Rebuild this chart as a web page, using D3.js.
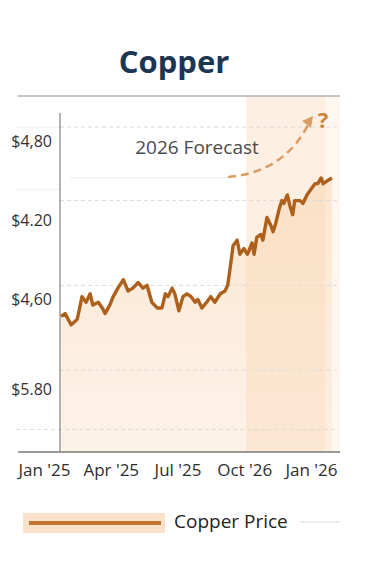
<!DOCTYPE html>
<html>
<head>
<meta charset="utf-8">
<script src="https://cdn.jsdelivr.net/npm/d3@7"></script>
<style>
  body { margin: 0; background: #fff; }
  svg { display: block; font-family: "Open Sans", "Noto Sans", sans-serif; }
</style>
</head>
<body>
<svg id="chart" width="385" height="563"></svg>
<script>
// days since start of series, and copper price ($/lb)
var dayIndex = [0, 6, 15, 24, 31, 37, 43, 47, 55, 61, 65, 72, 77, 84, 92, 99, 106, 114, 121,
  127, 134, 142, 149, 154, 158, 164, 168, 174, 180, 186, 192, 198, 202, 208, 215, 221, 227,
  235, 242, 246, 249, 254, 260, 264, 270, 275, 277, 282, 285, 289, 295, 298, 304, 310, 313,
  317, 322, 326, 329, 334, 338, 342, 345, 353, 357, 363, 369, 375, 379, 384, 387, 393, 400];
var prices = [4.28, 4.29, 4.25, 4.27, 4.35, 4.33, 4.36, 4.32, 4.33, 4.31, 4.29, 4.32, 4.35,
  4.38, 4.41, 4.37, 4.38, 4.40, 4.38,
  4.39, 4.33, 4.31, 4.31, 4.36, 4.35, 4.38, 4.36, 4.30, 4.35, 4.36, 4.35, 4.33, 4.34, 4.31,
  4.33, 4.35, 4.33,
  4.36, 4.37, 4.39, 4.44, 4.53, 4.55, 4.50, 4.52, 4.50, 4.51, 4.54, 4.50, 4.56, 4.57, 4.55,
  4.63, 4.60, 4.58,
  4.61, 4.66, 4.69, 4.68, 4.71, 4.67, 4.64, 4.69, 4.69, 4.68, 4.71, 4.73, 4.75, 4.75, 4.77,
  4.75, 4.76, 4.77];

var xLabels = ["Jan '25", "Apr '25", "Jul '25", "Oct '26", "Jan '26"];
var yTickLabels = ["$4,80", "$4.20", "$4,60", "$5.80"];
var yTickAt = [4.90, 4.62, 4.34, 4.02];
var gridAt = [4.95, 4.69, 4.39, 4.09, 3.88];
var forecastStart = 273, forecastEnd = 390;

var svg = d3.select("#chart");
var plotL = 60, plotR = 340, plotT = 96, plotB = 452;

var x = d3.scaleLinear().domain([0, 400]).range([61, 332]);
var y = d3.scaleLinear().domain([3.80, 5.00]).range([plotB, 113]);
var xl = d3.scalePoint().domain(xLabels).range([44, 311]);

var data = dayIndex.map(function(d, i) { return { day: d, price: prices[i] }; });

var defs = svg.append("defs");
var ag = defs.append("linearGradient").attr("id", "areaGrad")
  .attr("x1", 0).attr("y1", 0).attr("x2", 0).attr("y2", 1);
ag.append("stop").attr("offset", "0%").attr("stop-color", "#fbe4cd").attr("stop-opacity", 0.9);
ag.append("stop").attr("offset", "100%").attr("stop-color", "#fdf1e6").attr("stop-opacity", 0.9);

// title
svg.append("text").attr("x", 174).attr("y", 73).attr("text-anchor", "middle")
  .attr("font-size", 31).attr("font-weight", 700).attr("fill", "#1c3652")
  .text("Copper");

// area under line
svg.append("path").datum(data)
  .attr("fill", "url(#areaGrad)")
  .attr("d", d3.area().x(function(d) { return x(d.day); })
    .y0(plotB).y1(function(d) { return y(d.price); }));

// forecast band
svg.append("rect")
  .attr("x", x(forecastStart)).attr("y", plotT)
  .attr("width", x(forecastEnd) - x(forecastStart)).attr("height", plotB - plotT)
  .attr("fill", "#fbd6b4").attr("opacity", 0.4);
svg.append("rect")
  .attr("x", x(forecastEnd)).attr("y", plotT)
  .attr("width", plotR - x(forecastEnd)).attr("height", plotB - plotT)
  .attr("fill", "#fce7d4").attr("opacity", 0.35);

// gridlines
svg.append("g").selectAll("line").data(gridAt).join("line")
  .attr("x1", function(d, i) { return i == gridAt.length - 1 ? 16 : plotL; })
  .attr("x2", 338)
  .attr("y1", function(d) { return y(d); }).attr("y2", function(d) { return y(d); })
  .attr("stroke", "#dcdcdc").attr("stroke-width", 1).attr("stroke-dasharray", "4,3");
svg.append("g").selectAll("line").data([gridAt[0], 4.73]).join("line")
  .attr("x1", 16).attr("x2", plotL)
  .attr("y1", function(d) { return y(d); }).attr("y2", function(d) { return y(d); })
  .attr("stroke", "#efefef").attr("stroke-width", 1);

// top rule + axes lines
svg.append("line").attr("x1", 18).attr("x2", plotR).attr("y1", plotT).attr("y2", plotT)
  .attr("stroke", "#b0b0b0").attr("stroke-width", 1.3);
svg.append("line").attr("x1", plotL).attr("x2", plotL).attr("y1", 113).attr("y2", plotB)
  .attr("stroke", "#808080").attr("stroke-width", 1.2);
svg.append("line").attr("x1", 18).attr("x2", plotR).attr("y1", plotB).attr("y2", plotB)
  .attr("stroke", "#7a7a7a").attr("stroke-width", 1.5);

// y axis labels
var yAxis = svg.append("g").attr("transform", "translate(52,0)")
  .call(d3.axisLeft(y).tickValues(yTickAt).tickSize(0).tickPadding(0)
    .tickFormat(function(d, i) { return yTickLabels[i]; }));
yAxis.select(".domain").remove();
yAxis.selectAll("text").attr("font-size", 16).attr("fill", "#333")
  .attr("font-family", "'Open Sans', sans-serif");

// x axis labels
var xAxis = svg.append("g").attr("transform", "translate(0," + plotB + ")")
  .call(d3.axisBottom(xl).tickSize(0).tickPadding(12));
xAxis.select(".domain").remove();
xAxis.selectAll("text").attr("font-size", 17).attr("fill", "#2e2e2e")
  .attr("font-family", "'Open Sans', sans-serif");

// forecast annotation
svg.append("line").attr("x1", 70).attr("x2", 228).attr("y1", 178).attr("y2", 178)
  .attr("stroke", "#ececec").attr("stroke-width", 1.2);
svg.append("text").attr("x", 197).attr("y", 154).attr("text-anchor", "middle")
  .attr("font-size", 19).attr("fill", "#4a4a4a").text("2026 Forecast");
svg.append("path")
  .attr("d", "M228,177 Q285,172 309,123")
  .attr("fill", "none").attr("stroke", "#d99c63").attr("stroke-width", 2.5)
  .attr("stroke-dasharray", "8,5");
svg.append("path")
  .attr("d", "M313,116 L302,121 L311,128 Z")
  .attr("fill", "#d99c63");
svg.append("text").attr("x", 323).attr("y", 128).attr("text-anchor", "middle")
  .attr("font-size", 22).attr("font-weight", 700).attr("fill", "#c9843f").text("?");

// price line
svg.append("path").datum(data)
  .attr("fill", "none").attr("stroke", "#ad5f1c").attr("stroke-width", 3.4)
  .attr("stroke-linejoin", "round")
  .attr("d", d3.line().x(function(d) { return x(d.day); }).y(function(d) { return y(d.price); }));

// legend
svg.append("rect").attr("x", 23).attr("y", 513).attr("width", 142).attr("height", 20)
  .attr("fill", "#fbe1c9");
svg.append("line").attr("x1", 29).attr("x2", 161).attr("y1", 523).attr("y2", 523)
  .attr("stroke", "#c47331").attr("stroke-width", 4);
svg.append("text").attr("x", 174).attr("y", 528).attr("font-size", 19).attr("fill", "#222")
  .text("Copper Price");
svg.append("line").attr("x1", 300).attr("x2", 340).attr("y1", 522).attr("y2", 522)
  .attr("stroke", "#e6e6e6").attr("stroke-width", 1.5);
</script>
</body>
</html>
